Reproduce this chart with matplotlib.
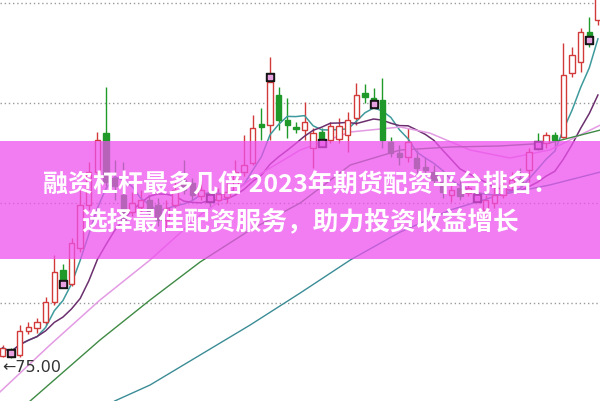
import numpy as np
import pandas as pd
import matplotlib
matplotlib.use("Agg")
import matplotlib.pyplot as plt
from matplotlib.patches import Rectangle

plt.rcParams['font.family'] = ['Noto Sans CJK SC', 'DejaVu Sans']

# daily candles
opens = [75.2, 75.8, 75.3, 77.7, 78.0, 78.6, 80.6, 83.8, 82.4, 86.0,
         90.3, 93.6, 97.5, 93.0, 91.3, 89.6, 90.1, 90.8, 90.3, 88.8,
         90.3, 92.8, 92.5, 91.2, 91.5, 90.8, 91.1, 91.6, 93.6, 94.5,
         98.4, 98.3, 101.3, 98.8, 98.1, 97.8, 96.0, 97.6, 96.8, 96.9,
         97.3, 99.0, 101.5, 101.0, 100.8, 96.6, 95.5, 95.1, 95.0, 94.1,
         93.6, 92.6, 91.3, 92.0, 91.5, 91.5, 89.8, 90.5, 91.3, 92.2,
         93.0, 93.8, 96.5, 96.5, 97.3, 97.1, 103.5, 104.6, 107.6, 108.8]
highs = [76.3, 76.0, 78.3, 78.6, 79.0, 81.1, 85.3, 84.4, 87.0, 91.8,
         94.6, 97.6, 102.1, 94.8, 94.6, 91.6, 91.8, 91.3, 91.0, 90.8,
         92.8, 94.8, 93.0, 92.8, 92.0, 92.0, 92.5, 94.8, 97.3, 99.3,
         100.0, 105.1, 102.1, 101.0, 98.6, 100.6, 98.0, 98.0, 98.6, 99.0,
         99.6, 102.5, 102.4, 102.0, 103.0, 97.1, 96.3, 98.0, 95.8, 95.1,
         94.3, 93.8, 92.5, 93.0, 92.3, 91.8, 91.3, 92.3, 93.3, 93.6,
         94.0, 96.0, 97.5, 97.6, 97.6, 106.5, 106.1, 108.0, 109.1, 111.8]
lows = [75.1, 75.0, 75.1, 77.4, 77.5, 78.3, 80.3, 82.6, 82.2, 85.6,
        89.8, 93.0, 92.2, 90.8, 88.3, 89.2, 89.6, 89.2, 88.2, 88.0,
        90.0, 91.4, 90.8, 90.8, 90.1, 90.3, 90.5, 91.3, 93.2, 94.3,
        96.8, 96.8, 97.8, 97.0, 97.5, 96.8, 94.0, 96.3, 96.5, 96.5,
        95.6, 98.3, 100.5, 100.2, 96.0, 95.1, 94.3, 94.6, 93.5, 93.5,
        92.3, 91.0, 90.6, 90.8, 91.2, 90.8, 88.8, 90.0, 91.0, 91.8,
        92.2, 92.6, 95.8, 96.0, 96.1, 97.0, 103.1, 103.6, 106.1, 108.3]
closes = [76.0, 75.3, 77.7, 78.1, 78.6, 80.6, 83.6, 82.8, 86.5, 90.3,
          93.6, 96.8, 92.6, 92.2, 88.8, 90.5, 90.8, 89.6, 88.8, 90.0,
          91.8, 91.8, 91.3, 91.8, 91.0, 91.4, 91.6, 93.6, 94.3, 98.0,
          98.1, 102.6, 98.8, 98.3, 97.9, 98.6, 97.5, 96.8, 98.2, 98.2,
          98.8, 101.3, 101.1, 100.6, 96.8, 95.5, 95.1, 96.6, 94.0, 93.8,
          92.8, 91.6, 91.8, 91.2, 92.0, 91.1, 90.8, 91.3, 92.3, 92.8,
          92.5, 95.6, 96.2, 97.3, 96.8, 103.3, 105.3, 107.6, 107.1, 111.3]

# trade signal boxes (candle index, price)
signal_idx = [1, 7, 24, 31, 37, 43, 55, 62, 68]
signal_px = [75.5, 82.4, 91.0, 103.1, 96.5, 100.4, 91.0, 96.3, 106.8]

# long moving averages, read as sparse points (candle index, price)
ma20_x = [-0.3, 5.5, 11.3, 17.1, 22.9, 28.7, 34.5, 40.3, 46.1, 49.5, 54.2, 58.8, 63.4, 69.3]
ma20_y = [71.6, 76.3, 80.8, 84.8, 89.3, 92.8, 95.8, 97.6, 98.1, 97.5, 95.8, 95.0, 95.8, 98.3]
ma30_x = [3.2, 11.3, 17.1, 22.9, 28.7, 34.5, 40.3, 46.1, 51.9, 57.6, 63.4, 69.3]
ma30_y = [70.7, 76.8, 80.8, 84.6, 87.8, 90.5, 94.3, 95.8, 96.1, 96.2, 96.5, 97.8]
ma60_x = [13.0, 17.1, 22.9, 28.7, 34.5, 40.3, 46.1, 51.9, 57.6, 63.4, 69.3]
ma60_y = [70.7, 72.3, 75.3, 78.3, 81.5, 84.8, 87.6, 89.8, 91.3, 92.3, 93.6]

grid_levels = [80.5, 90.5, 100.5, 110.5]

low_label = "←75.00"
title_1 = "融资杠杆最多几倍 2023年期货配资平台排名："
title_2 = "选择最佳配资服务，助力投资收益增长"

df = pd.DataFrame({"open": opens, "high": highs, "low": lows, "close": closes})
idx = np.arange(len(df))
up = df["close"] >= df["open"]

fig = plt.figure(figsize=(6.0, 4.01), dpi=100)
ax = fig.add_axes([0, 0, 1, 1])
ax.set_xlim(-0.29, 69.24)
ax.set_ylim(70.7, 110.8)
ax.axis("off")

for g in grid_levels:
    ax.axhline(g, color="#9a9a9a", lw=1.0, ls=(0, (1, 2)), zorder=1)

red = "#d23a3a"
green = "#1f9a2a"

# wicks
ax.vlines(idx[up], df["low"][up], df["high"][up], color=red, lw=1, zorder=2)
ax.vlines(idx[~up], df["low"][~up], df["high"][~up], color=green, lw=1, zorder=2)

# bodies
body_lo = np.minimum(df["open"], df["close"])
body_h = np.maximum(np.abs(df["close"] - df["open"]), 0.15)
ax.bar(idx[up], body_h[up], bottom=body_lo[up], width=0.62,
       facecolor="white", edgecolor=red, lw=1, zorder=4)
ax.bar(idx[~up], body_h[~up], bottom=body_lo[~up], width=0.62,
       facecolor=green, edgecolor=green, lw=1, zorder=4)

# moving averages
ma5 = df["close"].rolling(5, min_periods=1).mean()
ma10 = df["close"].rolling(10, min_periods=1).mean()
ax.plot(idx, ma5, color="#3e9a9c", lw=1.1, zorder=3)
ax.plot(idx, ma10, color="#6b2f6e", lw=1.1, zorder=3)
ax.plot(ma20_x, ma20_y, color="#e39be3", lw=1.1, zorder=3)
ax.plot(ma30_x, ma30_y, color="#3f8a45", lw=1.0, zorder=3)
ax.plot(ma60_x, ma60_y, color="#3b8c96", lw=1.0, zorder=3)

# signal boxes
ax.scatter(signal_idx, signal_px, marker="s", s=26, color="#151515", zorder=5)
ax.scatter(signal_idx, signal_px, marker="s", s=6, color="#e7a0e0", zorder=6)

ax.text(0.003, 0.083, low_label, transform=ax.transAxes, ha="left", va="center",
        fontsize=11.5, color="#333333", family="DejaVu Sans", zorder=7)

# pink banner over the middle
ax.add_patch(Rectangle((0, 0.354), 1, 0.295, transform=ax.transAxes,
                       facecolor="#ee50ee", alpha=0.74, lw=0, zorder=8))
ax.text(0.5, 0.538, title_1, transform=ax.transAxes, ha="center", va="center",
        fontsize=18, fontweight="bold", color="white", zorder=9)
ax.text(0.5, 0.446, title_2, transform=ax.transAxes, ha="center", va="center",
        fontsize=18.5, fontweight="bold", color="white", zorder=9)

fig.savefig("out.png", dpi=100)
